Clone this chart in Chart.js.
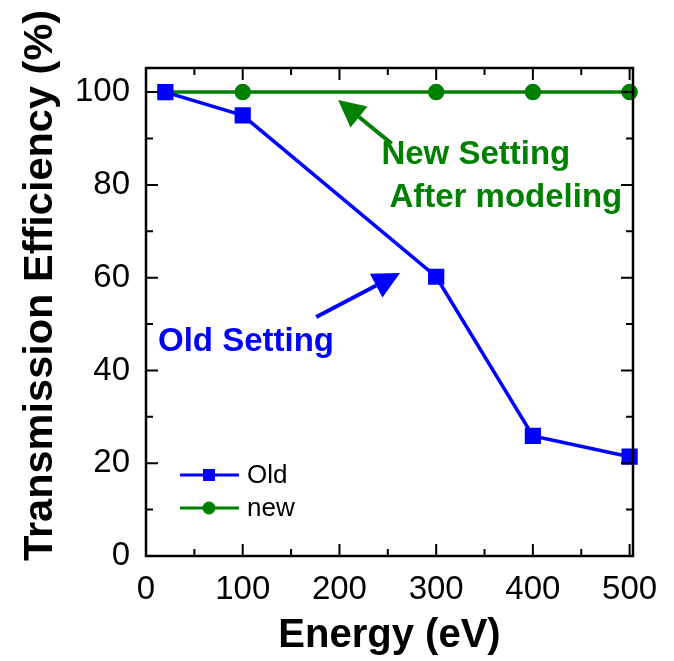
<!DOCTYPE html>
<html>
<head>
<meta charset="utf-8">
<script src="https://cdn.jsdelivr.net/npm/chart.js@4"></script>
<style>
  html, body { margin: 0; padding: 0; background: #fff; }
  #wrap { width: 674px; height: 661px; }
</style>
</head>
<body>
<div id="wrap"><canvas id="mychart"></canvas></div>
<script>
const energy = [20, 100, 300, 400, 500];
const oldValues = [100, 95, 60.2, 25.9, 21.4];
const newValues = [100, 100, 100, 100, 100];
const xTicks = [0, 100, 200, 300, 400, 500];
const yTicks = [0, 20, 40, 60, 80, 100];
const yTitle = 'Transmission Efficiency (%)';

// annotations in data units
const notes = [
    { text: 'New Setting', x: 341, y: 86.4, color: '#008000' },
    { text: 'After modeling', x: 372, y: 77.3, color: '#008000' },
    { text: 'Old Setting', x: 103.4, y: 46.2, color: '#0000ff' },
];
const arrows = [
    { from: [254, 88.9], to: [198.6, 98.3], color: '#008000' },
    { from: [176, 51.5], to: [262.7, 61], color: '#0000ff' },
];

const FONT = 'Liberation Sans, Arial, sans-serif';

function toPts(xs, ys) {
    return xs.map((x, i) => ({ x: x, y: ys[i] }));
}

const frame = {
    id: 'frame',
    afterDatasetsDraw(chart) {
        const ctx = chart.ctx;
        const a = chart.chartArea;
        const sx = chart.scales.x, sy = chart.scales.y;
        ctx.save();
        ctx.strokeStyle = '#000';
        ctx.lineWidth = 2.5;
        ctx.strokeRect(a.left, a.top, a.right - a.left, a.bottom - a.top);
        ctx.lineWidth = 2;
        ctx.beginPath();
        for (let v = 0; v <= 500; v += 50) {
            const px = sx.getPixelForValue(v);
            const len = v % 100 === 0 ? 12 : 7;
            ctx.moveTo(px, a.bottom); ctx.lineTo(px, a.bottom - len);
            ctx.moveTo(px, a.top); ctx.lineTo(px, a.top + len);
        }
        for (let v = 0; v <= 100; v += 10) {
            const py = sy.getPixelForValue(v);
            const len = v % 20 === 0 ? 12 : 7;
            ctx.moveTo(a.left, py); ctx.lineTo(a.left + len, py);
            ctx.moveTo(a.right, py); ctx.lineTo(a.right - len, py);
        }
        ctx.stroke();

        // y axis title (sits a bit above the centre, as in the original)
        ctx.save();
        ctx.translate(40.5, 285.5);
        ctx.rotate(-Math.PI / 2);
        ctx.font = 'bold 41.5px ' + FONT;
        ctx.fillStyle = '#000';
        ctx.textAlign = 'center';
        ctx.textBaseline = 'middle';
        ctx.fillText(yTitle, 0, 0);
        ctx.restore();

        // arrows
        arrows.forEach(ar => {
            const x0 = sx.getPixelForValue(ar.from[0]), y0 = sy.getPixelForValue(ar.from[1]);
            const x1 = sx.getPixelForValue(ar.to[0]), y1 = sy.getPixelForValue(ar.to[1]);
            const ang = Math.atan2(y1 - y0, x1 - x0);
            const hl = 27, hw = 13.5;
            const bx = x1 - hl * Math.cos(ang), by = y1 - hl * Math.sin(ang);
            ctx.strokeStyle = ar.color;
            ctx.fillStyle = ar.color;
            ctx.lineWidth = 4;
            ctx.beginPath();
            ctx.moveTo(x0, y0); ctx.lineTo(bx, by);
            ctx.stroke();
            ctx.beginPath();
            ctx.moveTo(x1, y1);
            ctx.lineTo(bx + hw * Math.sin(ang), by - hw * Math.cos(ang));
            ctx.lineTo(bx - hw * Math.sin(ang), by + hw * Math.cos(ang));
            ctx.closePath();
            ctx.fill();
        });

        // text notes
        ctx.font = 'bold 33px ' + FONT;
        ctx.textAlign = 'center';
        ctx.textBaseline = 'middle';
        notes.forEach(n => {
            ctx.fillStyle = n.color;
            ctx.fillText(n.text, sx.getPixelForValue(n.x), sy.getPixelForValue(n.y));
        });

        // legend
        const items = chart.data.datasets;
        ctx.font = '26px ' + FONT;
        ctx.textAlign = 'left';
        items.forEach((ds, i) => {
            const ly = 475 + i * 33;
            ctx.strokeStyle = ds.borderColor;
            ctx.lineWidth = 3;
            ctx.beginPath();
            ctx.moveTo(180, ly); ctx.lineTo(239, ly);
            ctx.stroke();
            ctx.fillStyle = ds.borderColor;
            if (ds.pointStyle === 'rect') {
                ctx.fillRect(203, ly - 6, 12, 12);
            } else {
                ctx.beginPath();
                ctx.arc(209, ly, 6.5, 0, Math.PI * 2);
                ctx.fill();
            }
            ctx.fillStyle = '#000';
            ctx.fillText(ds.label, 247, ly + 1);
        });
        ctx.restore();
    }
};

new Chart(document.getElementById('mychart'), {
    type: 'line',
    data: {
        datasets: [{
            label: 'Old',
            data: toPts(energy, oldValues),
            borderColor: '#0000ff',
            backgroundColor: '#0000ff',
            borderWidth: 3.5,
            pointStyle: 'rect',
            pointRadius: 9,
            pointHoverRadius: 9,
        }, {
            label: 'new',
            data: toPts(energy, newValues),
            borderColor: '#008000',
            backgroundColor: '#008000',
            borderWidth: 3.5,
            pointStyle: 'circle',
            pointRadius: 6.5,
            pointHoverRadius: 6.5,
        }]
    },
    options: {
        responsive: true,
        maintainAspectRatio: false,
        animation: false,
        clip: false,
        layout: { padding: { top: 68, right: 41, left: 0, bottom: 0 } },
        plugins: {
            legend: { display: false },
            tooltip: { enabled: false },
        },
        scales: {
            x: {
                type: 'linear',
                min: 0,
                max: 503.5,
                afterBuildTicks: s => { s.ticks = xTicks.map(v => ({ value: v })); },
                afterFit: s => { s.height = 105; },
                grid: { display: false },
                border: { display: false },
                ticks: {
                    color: '#000',
                    font: { family: FONT, size: 33 },
                    padding: 6,
                    maxRotation: 0,
                },
                title: {
                    display: true,
                    text: 'Energy (eV)',
                    color: '#000',
                    font: { family: FONT, size: 40, weight: 'bold' },
                    padding: { top: 1, bottom: 1 },
                },
            },
            y: {
                min: 0,
                max: 105.2,
                afterBuildTicks: s => { s.ticks = yTicks.map(v => ({ value: v })); },
                afterFit: s => { s.width = 146; },
                grid: { display: false },
                border: { display: false },
                ticks: {
                    color: '#000',
                    font: { family: FONT, size: 33 },
                    padding: 8,
                },
                title: { display: false },
            }
        }
    },
    plugins: [frame]
});
</script>
</body>
</html>
